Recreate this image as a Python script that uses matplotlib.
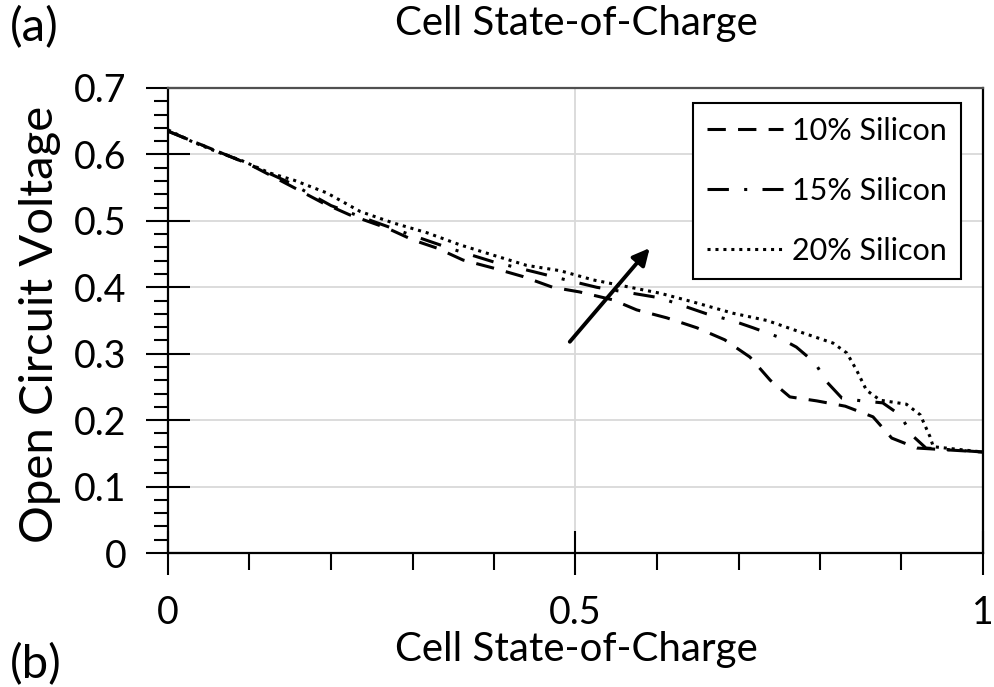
import matplotlib
matplotlib.use("Agg")
import matplotlib.pyplot as plt
from matplotlib.ticker import MultipleLocator

plt.rcParams['font.family'] = ['Lato', 'DejaVu Sans']

# ---- data ----
soc_10 = [0.0, 0.05, 0.10, 0.15, 0.19, 0.223, 0.269, 0.301, 0.33, 0.362, 0.399, 0.436, 0.472,
          0.505, 0.546, 0.575, 0.612, 0.649, 0.683, 0.714, 0.739, 0.763, 0.796, 0.831,
          0.865, 0.888, 0.919, 1.0]
ocv_10 = [0.635, 0.610, 0.585, 0.553, 0.527, 0.509, 0.489, 0.471, 0.459, 0.441, 0.429, 0.416, 0.400,
          0.393, 0.381, 0.366, 0.354, 0.339, 0.321, 0.295, 0.260, 0.235, 0.229, 0.221,
          0.205, 0.173, 0.158, 0.152]

soc_15 = [0.0, 0.05, 0.10, 0.15, 0.20, 0.25, 0.30, 0.35, 0.40, 0.45, 0.489, 0.526, 0.56, 0.604,
          0.661, 0.692, 0.718, 0.747, 0.771, 0.794, 0.808, 0.827, 0.851, 0.877, 0.898,
          0.914, 0.930, 1.0]
ocv_15 = [0.635, 0.610, 0.585, 0.557, 0.523, 0.500, 0.478, 0.457, 0.438, 0.423, 0.411, 0.400, 0.393, 0.384,
          0.360, 0.350, 0.339, 0.326, 0.310, 0.286, 0.258, 0.233, 0.229, 0.226, 0.208,
          0.176, 0.158, 0.152]

soc_20 = [0.0, 0.03, 0.06, 0.09, 0.125, 0.155, 0.195, 0.236, 0.276, 0.318, 0.358, 0.40, 0.44,
          0.481, 0.522, 0.563, 0.604, 0.644, 0.693, 0.735, 0.775, 0.816, 0.833, 0.845,
          0.857, 0.874, 0.906, 0.923, 0.935, 0.939, 1.0]
ocv_20 = [0.637, 0.619, 0.604, 0.591, 0.572, 0.561, 0.542, 0.514, 0.497, 0.482, 0.464, 0.448, 0.433,
          0.425, 0.411, 0.401, 0.391, 0.378, 0.361, 0.350, 0.333, 0.316, 0.301, 0.275,
          0.245, 0.230, 0.224, 0.208, 0.175, 0.160, 0.152]

labels = ['10% Silicon', '15% Silicon', '20% Silicon']
x_ticks = [0, 0.5, 1]
x_tick_labels = ['0', '0.5', '1']
y_ticks = [0, 0.1, 0.2, 0.3, 0.4, 0.5, 0.6, 0.7]
y_tick_labels = ['0', '0.1', '0.2', '0.3', '0.4', '0.5', '0.6', '0.7']
arrow_start = (0.493, 0.318)
arrow_end = (0.591, 0.459)

# ---- figure ----
fig = plt.figure(figsize=(9.95, 6.87), dpi=100)
ax = fig.add_axes([168/995, 1-553/687, (983-168)/995, (553-88)/687])

lw = 2.2
ax.plot(soc_10, ocv_10, color='black', lw=lw, linestyle=(0, (6, 4)), label=labels[0])
ax.plot(soc_15, ocv_15, color='black', lw=lw, linestyle=(0, (7, 5, 1, 5)), label=labels[1])
ax.plot(soc_20, ocv_20, color='black', lw=lw, linestyle=(0, (1, 1.6)), label=labels[2])

ax.annotate('', xy=arrow_end, xytext=arrow_start,
            arrowprops=dict(arrowstyle='-|>', color='black', lw=2.8,
                            mutation_scale=25, shrinkA=0, shrinkB=0))

ax.set_xlim(0, 1)
ax.set_ylim(0, 0.7)
ax.set_xticks(x_ticks)
ax.set_xticklabels(x_tick_labels)
ax.set_yticks(y_ticks)
ax.set_yticklabels(y_tick_labels)
ax.xaxis.set_minor_locator(MultipleLocator(0.1))
ax.yaxis.set_minor_locator(MultipleLocator(0.02))

ax.grid(True, which='major', color='#d9d9d9', lw=1.3)
ax.set_axisbelow(True)

ax.tick_params(axis='both', which='major', direction='inout', length=32, width=1.5,
               labelsize=27, color='black')
ax.tick_params(axis='x', which='major', pad=14)
ax.tick_params(axis='y', which='major', pad=14)
ax.tick_params(axis='x', which='minor', direction='out', length=12, width=1.5, color='black')
ax.tick_params(axis='y', which='minor', direction='out', length=10, width=1.5, color='black')

for s in ['left', 'bottom', 'right']:
    ax.spines[s].set_color('black')
    ax.spines[s].set_linewidth(1.6)
ax.spines['top'].set_color('#505050')
ax.spines['top'].set_linewidth(1.6)

ax.set_ylabel('Open Circuit Voltage', fontsize=34)
ax.yaxis.set_label_coords((61-168)/815, (553-324)/465)

fig.text(576/995, 1-23/687, 'Cell State-of-Charge', fontsize=29, ha='center', va='center')
fig.text(576/995, 1-650/687, 'Cell State-of-Charge', fontsize=29, ha='center', va='center')
fig.text(10/995, 1-28/687, '(a)', fontsize=34, ha='left', va='center')
fig.text(10/995, 1-665/687, '(b)', fontsize=34, ha='left', va='center')

leg = ax.legend(loc='upper left', bbox_to_anchor=((693-168)/815, (553-103)/465),
                fontsize=22, frameon=True, fancybox=False, edgecolor='black',
                framealpha=1, handlelength=2.5, handletextpad=0.3,
                labelspacing=1.05, borderpad=0.45, borderaxespad=0)
leg.get_frame().set_linewidth(1.5)

fig.savefig('out.png', dpi=100)
